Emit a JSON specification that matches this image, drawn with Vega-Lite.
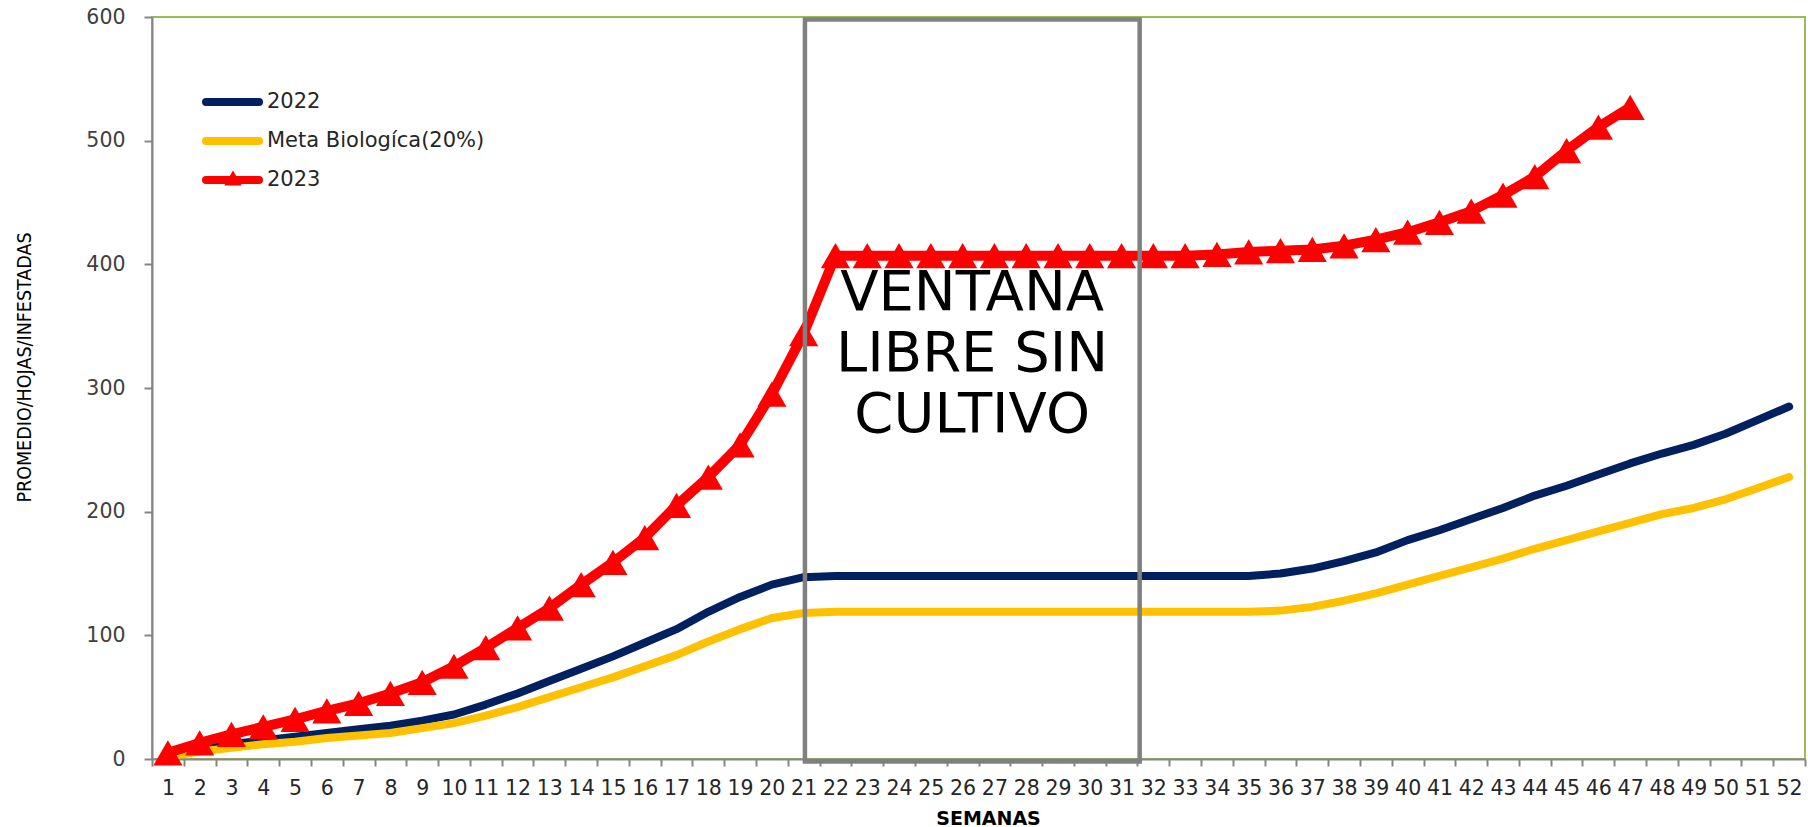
{
  "$schema": "https://vega.github.io/schema/vega-lite/v6.json",
  "autosize": {"type": "none"},
  "padding": {"left": 152, "top": 17, "right": 3, "bottom": 68},
  "width": 1653,
  "height": 742,
  "config": {
    "view": {"stroke": "#9BBB59", "strokeWidth": 2},
    "axis": {"grid": false}
  },
  "resolve": {"scale": {"x": "independent", "y": "independent"}, "axis": {"x": "independent", "y": "independent"}},
  "layer": [
    {
      "data": {"values": [
        {"semana": 1, "2022": 3, "Meta Biologíca(20%)": 2, "2023": 5},
        {"semana": 2, "2022": 8, "Meta Biologíca(20%)": 6, "2023": 13},
        {"semana": 3, "2022": 12, "Meta Biologíca(20%)": 9, "2023": 20},
        {"semana": 4, "2022": 15, "Meta Biologíca(20%)": 12, "2023": 26},
        {"semana": 5, "2022": 18, "Meta Biologíca(20%)": 14, "2023": 32},
        {"semana": 6, "2022": 21, "Meta Biologíca(20%)": 17, "2023": 39},
        {"semana": 7, "2022": 24, "Meta Biologíca(20%)": 19, "2023": 45},
        {"semana": 8, "2022": 27, "Meta Biologíca(20%)": 21, "2023": 53},
        {"semana": 9, "2022": 31, "Meta Biologíca(20%)": 25, "2023": 62},
        {"semana": 10, "2022": 36, "Meta Biologíca(20%)": 29, "2023": 75},
        {"semana": 11, "2022": 44, "Meta Biologíca(20%)": 35, "2023": 90},
        {"semana": 12, "2022": 53, "Meta Biologíca(20%)": 42, "2023": 106},
        {"semana": 13, "2022": 63, "Meta Biologíca(20%)": 50, "2023": 122},
        {"semana": 14, "2022": 73, "Meta Biologíca(20%)": 58, "2023": 141},
        {"semana": 15, "2022": 83, "Meta Biologíca(20%)": 66, "2023": 159},
        {"semana": 16, "2022": 94, "Meta Biologíca(20%)": 75, "2023": 179},
        {"semana": 17, "2022": 105, "Meta Biologíca(20%)": 84, "2023": 205},
        {"semana": 18, "2022": 119, "Meta Biologíca(20%)": 95, "2023": 228},
        {"semana": 19, "2022": 131, "Meta Biologíca(20%)": 105, "2023": 254},
        {"semana": 20, "2022": 141, "Meta Biologíca(20%)": 114, "2023": 295},
        {"semana": 21, "2022": 147, "Meta Biologíca(20%)": 118, "2023": 344},
        {"semana": 22, "2022": 148, "Meta Biologíca(20%)": 119, "2023": 407},
        {"semana": 23, "2022": 148, "Meta Biologíca(20%)": 119, "2023": 407},
        {"semana": 24, "2022": 148, "Meta Biologíca(20%)": 119, "2023": 407},
        {"semana": 25, "2022": 148, "Meta Biologíca(20%)": 119, "2023": 407},
        {"semana": 26, "2022": 148, "Meta Biologíca(20%)": 119, "2023": 407},
        {"semana": 27, "2022": 148, "Meta Biologíca(20%)": 119, "2023": 407},
        {"semana": 28, "2022": 148, "Meta Biologíca(20%)": 119, "2023": 407},
        {"semana": 29, "2022": 148, "Meta Biologíca(20%)": 119, "2023": 407},
        {"semana": 30, "2022": 148, "Meta Biologíca(20%)": 119, "2023": 407},
        {"semana": 31, "2022": 148, "Meta Biologíca(20%)": 119, "2023": 407},
        {"semana": 32, "2022": 148, "Meta Biologíca(20%)": 119, "2023": 407},
        {"semana": 33, "2022": 148, "Meta Biologíca(20%)": 119, "2023": 407},
        {"semana": 34, "2022": 148, "Meta Biologíca(20%)": 119, "2023": 408},
        {"semana": 35, "2022": 148, "Meta Biologíca(20%)": 119, "2023": 410},
        {"semana": 36, "2022": 150, "Meta Biologíca(20%)": 120, "2023": 411},
        {"semana": 37, "2022": 154, "Meta Biologíca(20%)": 123, "2023": 412},
        {"semana": 38, "2022": 160, "Meta Biologíca(20%)": 128, "2023": 415},
        {"semana": 39, "2022": 167, "Meta Biologíca(20%)": 134, "2023": 420},
        {"semana": 40, "2022": 177, "Meta Biologíca(20%)": 141, "2023": 426},
        {"semana": 41, "2022": 185, "Meta Biologíca(20%)": 148, "2023": 434},
        {"semana": 42, "2022": 194, "Meta Biologíca(20%)": 155, "2023": 443},
        {"semana": 43, "2022": 203, "Meta Biologíca(20%)": 162, "2023": 456},
        {"semana": 44, "2022": 213, "Meta Biologíca(20%)": 170, "2023": 471},
        {"semana": 45, "2022": 221, "Meta Biologíca(20%)": 177, "2023": 492},
        {"semana": 46, "2022": 230, "Meta Biologíca(20%)": 184, "2023": 511},
        {"semana": 47, "2022": 239, "Meta Biologíca(20%)": 191, "2023": 527},
        {"semana": 48, "2022": 247, "Meta Biologíca(20%)": 198},
        {"semana": 49, "2022": 254, "Meta Biologíca(20%)": 203},
        {"semana": 50, "2022": 263, "Meta Biologíca(20%)": 210},
        {"semana": 51, "2022": 274, "Meta Biologíca(20%)": 219},
        {"semana": 52, "2022": 285, "Meta Biologíca(20%)": 228}
      ]},
      "transform": [
        {"fold": ["2022", "Meta Biologíca(20%)", "2023"], "as": ["serie", "valor"]},
        {"filter": "isValid(datum.valor)"}
      ],
      "encoding": {
        "x": {
          "field": "semana", "type": "ordinal",
          "scale": {"paddingInner": 0, "paddingOuter": 0},
          "axis": {
            "title": "SEMANAS", "labelAngle": 0, "tickBand": "extent", "labelOverlap": false,
            "labelFont": "DejaVu Sans", "labelFontSize": 20.5, "labelColor": "#262626", "labelPadding": 12,
            "tickSize": 7, "tickColor": "#868686", "tickWidth": 2,
            "domainColor": "#868686", "domainWidth": 2,
            "titleFont": "DejaVu Sans", "titleFontWeight": "bold", "titleFontSize": 19, "titleColor": "#000000",
            "titleX": 836, "titleY": 59, "titleBaseline": "middle", "titleAlign": "center"
          }
        },
        "y": {
          "field": "valor", "type": "quantitative",
          "scale": {"domain": [0, 600], "nice": false},
          "axis": {
            "title": "PROMEDIO/HOJAS/INFESTADAS", "values": [0, 100, 200, 300, 400, 500, 600],
            "labelFont": "DejaVu Sans", "labelFontSize": 20.5, "labelColor": "#404040", "labelPadding": 19,
            "tickSize": 8, "tickColor": "#868686", "tickWidth": 2,
            "domainColor": "#868686", "domainWidth": 2,
            "titleFont": "Liberation Sans Narrow, DejaVu Sans Condensed, Liberation Sans", "titleFontSize": 19.5, "titleFontWeight": "normal", "titleColor": "#000000",
            "titleX": -128, "titleY": 350, "titleAngle": 270, "titleBaseline": "middle", "titleAlign": "center"
          }
        }
      },
      "layer": [
        {
          "transform": [{"filter": {"field": "serie", "equal": "2022"}}],
          "mark": {"type": "line", "strokeWidth": 8, "strokeCap": "round", "strokeJoin": "round"},
          "encoding": {
            "color": {
              "field": "serie", "type": "nominal",
              "scale": {"domain": ["2022", "Meta Biologíca(20%)", "2023"], "range": ["#002060", "#FFC000", "#FF0000"]},
              "legend": {
                "orient": "none", "legendX": 50, "legendY": 75, "title": null, "padding": 0,
                "symbolType": "stroke", "symbolSize": 2809, "symbolStrokeWidth": 8,
                "labelFont": "DejaVu Sans", "labelFontSize": 21, "labelColor": "#262626", "labelOffset": 4, "labelLimit": 0,
                "clipHeight": 20, "rowPadding": 18,
                "encode": {"symbols": {"update": {"strokeCap": {"value": "round"}}}}
              }
            }
          }
        },
        {
          "transform": [{"filter": {"field": "serie", "equal": "Meta Biologíca(20%)"}}],
          "mark": {"type": "line", "strokeWidth": 8, "strokeCap": "round", "strokeJoin": "round"},
          "encoding": {"color": {"field": "serie", "type": "nominal"}}
        },
        {
          "transform": [{"filter": {"field": "serie", "equal": "2023"}}],
          "mark": {"type": "line", "strokeWidth": 10, "strokeCap": "round", "strokeJoin": "round"},
          "encoding": {"color": {"field": "serie", "type": "nominal"}}
        },
        {
          "transform": [{"filter": {"field": "serie", "equal": "2023"}}],
          "mark": {"type": "point", "filled": true, "size": 850, "color": "#FF0000", "opacity": 1, "strokeWidth": 0},
          "encoding": {
            "shape": {
              "field": "serie", "type": "nominal",
              "scale": {"range": ["triangle-up"]},
              "legend": {
                "orient": "none", "legendX": 71, "legendY": 151, "title": null, "padding": 0,
                "symbolSize": 300, "symbolFillColor": "#FF0000", "symbolStrokeColor": "#FF0000", "symbolStrokeWidth": 0,
                "labelExpr": "''", "labelFontSize": 20, "clipHeight": 20
              }
            }
          }
        }
      ]
    },
    {
      "data": {"values": [{}]},
      "layer": [
        {
          "mark": {"type": "rect", "fill": "transparent", "stroke": "#808080", "strokeWidth": 4.5},
          "encoding": {
            "x": {"datum": 20.54, "type": "quantitative", "scale": {"domain": [0, 52], "nice": false, "zero": false}, "axis": null},
            "x2": {"datum": 31.07},
            "y": {"datum": 598, "type": "quantitative", "scale": {"domain": [0, 600], "nice": false}, "axis": null},
            "y2": {"datum": -2}
          }
        },
        {
          "mark": {"type": "text", "text": ["VENTANA", "LIBRE SIN", "CULTIVO"], "font": "DejaVu Sans", "fontSize": 56, "lineHeight": 61, "align": "center", "baseline": "middle", "color": "#000000"},
          "encoding": {
            "x": {"datum": 25.8, "type": "quantitative", "scale": {"domain": [0, 52], "nice": false, "zero": false}, "axis": null},
            "y": {"datum": 377, "type": "quantitative", "scale": {"domain": [0, 600], "nice": false}, "axis": null}
          }
        }
      ]
    }
  ]
}
